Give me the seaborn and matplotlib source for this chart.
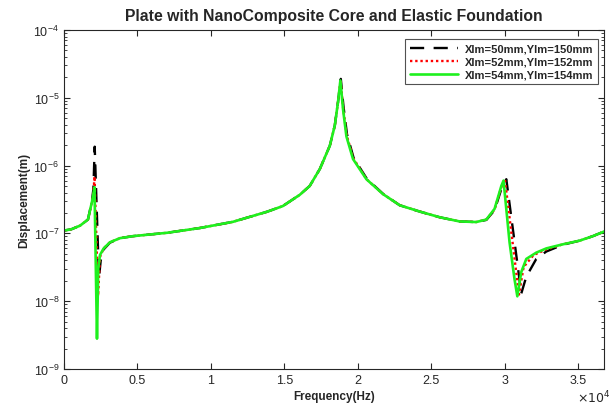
import numpy as np
import pandas as pd
import matplotlib
matplotlib.use("Agg")
import matplotlib.pyplot as plt
import seaborn as sns
from matplotlib.ticker import FuncFormatter, LogLocator, NullFormatter
from matplotlib.lines import Line2D

# ---------------- data ----------------
labels = ["Xlm=50mm,Ylm=150mm", "Xlm=52mm,Ylm=152mm", "Xlm=54mm,Ylm=154mm"]

freq_a = [0, 500, 1090, 1630, 1900, 2000, 2090, 2380, 2500, 2700, 3130, 3810, 4690,
          7010, 9250, 11500, 13810, 14900, 16050, 16730, 17420, 18100, 18440, 18660,
          18850, 19030, 19270, 19720, 20620, 21740, 22860, 24220, 25580, 26940, 28070,
          28760, 29320, 29780, 30120, 31140, 31480, 32160, 32840, 33970, 35100, 36010, 36800]
disp_a = [1.1e-7, 1.15e-7, 1.3e-7, 1.6e-7, 3.0e-7, 4.5e-7, 1.9e-6, 2.2e-8, 4.0e-8, 5.8e-8,
          7.3e-8, 8.5e-8, 9.1e-8, 1.02e-7, 1.2e-7, 1.48e-7, 2.08e-7, 2.53e-7, 3.7e-7, 5.0e-7,
          8.9e-7, 1.96e-6, 3.9e-6, 8.7e-6, 1.9e-5, 7.5e-6, 2.9e-6, 1.3e-6, 6.4e-7, 3.8e-7,
          2.6e-7, 2.1e-7, 1.73e-7, 1.5e-7, 1.47e-7, 1.58e-7, 2.2e-7, 4.5e-7, 6.3e-7, 1.3e-8,
          2.3e-8, 4.2e-8, 5.4e-8, 6.8e-8, 7.8e-8, 9.1e-8, 1.07e-7]

freq_b = [0, 500, 1090, 1630, 1900, 2000, 2080, 2320, 2450, 2700, 3130, 3810, 4690,
          7010, 9250, 11500, 13810, 14900, 16050, 16730, 17420, 18100, 18440, 18660,
          18830, 19010, 19250, 19700, 20600, 21730, 22860, 24220, 25580, 26940, 28070,
          28760, 29320, 29780, 30020, 30980, 31300, 31980, 32840, 33970, 35100, 36010, 36800]
disp_b = [1.1e-7, 1.15e-7, 1.3e-7, 1.6e-7, 2.9e-7, 4.0e-7, 6.9e-7, 1.2e-8, 4.5e-8, 6.0e-8,
          7.4e-8, 8.5e-8, 9.1e-8, 1.02e-7, 1.2e-7, 1.48e-7, 2.08e-7, 2.53e-7, 3.7e-7, 5.0e-7,
          8.9e-7, 1.96e-6, 3.9e-6, 8.7e-6, 1.85e-5, 7.0e-6, 2.8e-6, 1.28e-6, 6.3e-7, 3.8e-7,
          2.6e-7, 2.1e-7, 1.73e-7, 1.5e-7, 1.47e-7, 1.6e-7, 2.25e-7, 4.8e-7, 6.3e-7, 1.25e-8,
          3.2e-8, 4.8e-8, 5.8e-8, 6.9e-8, 7.8e-8, 9.1e-8, 1.07e-7]

freq_c = [0, 500, 1090, 1630, 1900, 2000, 2075, 2245, 2330, 2450, 2700, 3130, 3810, 4690,
          7010, 9250, 11500, 13810, 14900, 16050, 16730, 17420, 18100, 18440, 18660,
          18820, 19000, 19230, 19680, 20590, 21720, 22860, 24220, 25580, 26940, 28070,
          28760, 29320, 29780, 29930, 30340, 30680, 30870, 31140, 31480, 32160, 32840,
          33970, 35100, 36010, 36800]
disp_c = [1.1e-7, 1.15e-7, 1.3e-7, 1.6e-7, 2.9e-7, 3.8e-7, 4.8e-7, 2.8e-9, 3.0e-8, 4.8e-8,
          6.0e-8, 7.4e-8, 8.5e-8, 9.1e-8, 1.02e-7, 1.2e-7, 1.48e-7, 2.08e-7, 2.53e-7, 3.7e-7,
          5.0e-7, 8.9e-7, 1.96e-6, 3.9e-6, 8.7e-6, 1.8e-5, 6.8e-6, 2.7e-6, 1.25e-6, 6.3e-7,
          3.8e-7, 2.6e-7, 2.1e-7, 1.73e-7, 1.5e-7, 1.47e-7, 1.6e-7, 2.3e-7, 5.0e-7, 6.0e-7,
          7.4e-8, 2.1e-8, 1.18e-8, 2.7e-8, 4.2e-8, 5.2e-8, 6.0e-8, 6.9e-8, 7.8e-8, 9.1e-8,
          1.07e-7]

# ---------------- styling ----------------
sns.set_style("ticks")
plt.rcParams["font.family"] = ["Liberation Sans", "DejaVu Sans"]
plt.rcParams["xtick.direction"] = "in"
plt.rcParams["ytick.direction"] = "in"
plt.rcParams["axes.linewidth"] = 0.8

fig = plt.figure(figsize=(6.12, 4.06), dpi=100)
ax = fig.add_axes([0.1046, 0.0887, 0.883, 0.835])

series = [(freq_a, disp_a, labels[0], "black", (0, (6, 4)), 1.7),
          (freq_b, disp_b, labels[1], "red", (0, (1, 1.2)), 1.7),
          (freq_c, disp_c, labels[2], "#1EF01E", "-", 1.9)]

handles = []
for f, d, lab, col, ls, lw in series:
    df = pd.DataFrame({"Frequency": f, "Displacement": d})
    sns.lineplot(data=df, x="Frequency", y="Displacement", ax=ax, color=col,
                 linewidth=lw, estimator=None, sort=False, legend=False)
    ax.lines[-1].set_linestyle(ls)
    handles.append(Line2D([0], [0], color=col, linestyle=ls, linewidth=lw, label=lab))

ax.set_yscale("log")
ax.set_ylim(1e-9, 1e-4)
ax.set_xlim(0, 36800)
ax.set_xticks(np.arange(0, 36000, 5000))
ax.xaxis.set_major_formatter(FuncFormatter(lambda v, p: f"{v/1e4:g}"))
ax.yaxis.set_major_locator(LogLocator(base=10, numticks=10))
ax.yaxis.set_minor_locator(LogLocator(base=10, subs=np.arange(2, 10), numticks=20))
ax.yaxis.set_minor_formatter(NullFormatter())
ax.xaxis.get_offset_text().set_visible(False)
ax.yaxis.get_offset_text().set_visible(False)

ax.tick_params(axis="both", which="both", top=True, right=True, direction="in",
               colors="#262626", labelcolor="#262626", labelsize=9)
ax.tick_params(which="major", length=4)
ax.tick_params(which="minor", length=2)
for s in ax.spines.values():
    s.set_visible(True)
    s.set_color("#262626")

ax.set_title("Plate with NanoComposite Core and Elastic Foundation",
             fontsize=11.3, fontweight="bold", pad=7)
ax.set_xlabel("Frequency(Hz)", fontsize=8.5, fontweight="bold", labelpad=3)
ax.set_ylabel("Displacement(m)", fontsize=8.5, fontweight="bold", labelpad=2)
ax.text(1.011, -0.083, r"$\times10^{4}$", transform=ax.transAxes, ha="right",
        va="center", fontsize=9, color="#262626")

leg = ax.legend(handles=handles, loc="upper right", bbox_to_anchor=(0.999, 0.99),
                prop={"weight": "bold", "size": 8}, handlelength=4.3,
                frameon=True, fancybox=False, borderpad=0.45, labelspacing=0.25,
                handletextpad=0.6)
leg.get_frame().set_edgecolor("#262626")
leg.get_frame().set_linewidth(0.8)

fig.savefig("out.png", dpi=100)
